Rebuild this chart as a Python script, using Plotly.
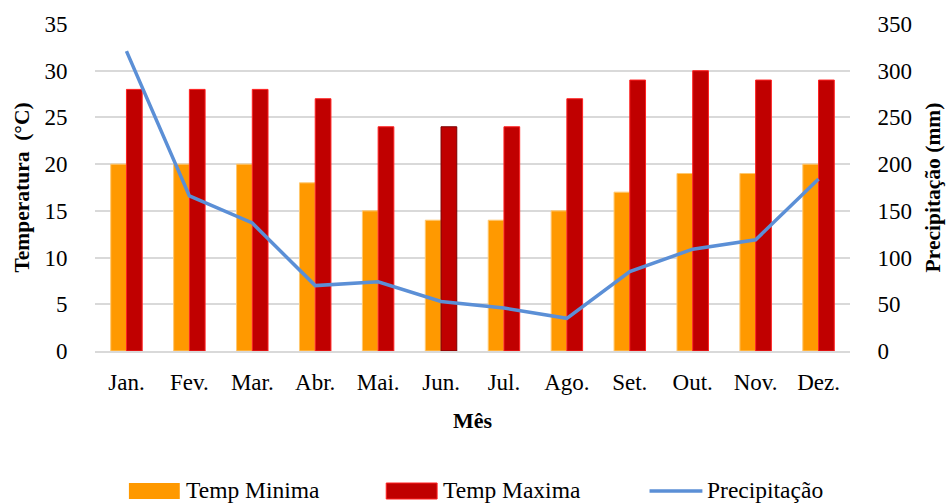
import plotly.graph_objects as go

# Monthly climate data
meses = ["Jan.", "Fev.", "Mar.", "Abr.", "Mai.", "Jun.", "Jul.", "Ago.", "Set.", "Out.", "Nov.", "Dez."]
temp_minima = [20, 20, 20, 18, 15, 14, 14, 15, 17, 19, 19, 20]
temp_maxima = [28, 28, 28, 27, 24, 24, 24, 27, 29, 30, 29, 29]
precipitacao = [321, 166, 137, 70, 74, 53, 46, 35, 85, 109, 119, 184]

FONT = "Liberation Serif, Times New Roman, serif"
ORANGE = "#FF9900"
RED = "#C00000"
BLUE = "#5B8FD6"
GRID = "#D9D9D9"

W, H = 952, 504
L, R, T, B = 95, 100, 24, 153
PW, PH = W - L - R, H - T - B


def px_x(x):
    return (x - L) / PW


def px_y(y):
    return (H - B - y) / PH


max_outline = ["#FF2020"] * 12
max_outline[5] = "#7A0000"

fig = go.Figure()
fig.add_trace(go.Bar(
    x=meses, y=temp_minima, name="Temp Minima",
    marker=dict(color=ORANGE, line=dict(color="#FFC870", width=1)),
    showlegend=False,
))
fig.add_trace(go.Bar(
    x=meses, y=temp_maxima, name="Temp Maxima",
    marker=dict(color=RED, line=dict(color=max_outline, width=1)),
    showlegend=False,
))
fig.add_trace(go.Scatter(
    x=meses, y=precipitacao, name="Precipitação", yaxis="y2",
    mode="lines", line=dict(color=BLUE, width=3.5),
    showlegend=False,
))

# Legend drawn below the chart
shapes = [
    dict(type="rect", xref="paper", yref="paper",
         x0=px_x(129), x1=px_x(180), y0=px_y(499), y1=px_y(483),
         fillcolor=ORANGE, line=dict(width=0)),
    dict(type="rect", xref="paper", yref="paper",
         x0=px_x(387), x1=px_x(438), y0=px_y(499), y1=px_y(483),
         fillcolor=RED, line=dict(color="#FF2020", width=1)),
    dict(type="line", xref="paper", yref="paper",
         x0=px_x(651), x1=px_x(704), y0=px_y(491), y1=px_y(491),
         line=dict(color=BLUE, width=3.5)),
]
legend_labels = [(184, "Temp Minima"), (442, "Temp Maxima"), (707, "Precipitação")]
annotations = [
    dict(x=px_x(xp), y=px_y(490), xref="paper", yref="paper", text=txt,
         showarrow=False, xanchor="left", yanchor="middle",
         font=dict(family=FONT, size=23.5, color="#000000"))
    for xp, txt in legend_labels
]

fig.update_layout(
    width=W, height=H,
    margin=dict(l=L, r=R, t=T, b=B, pad=0),
    paper_bgcolor="white", plot_bgcolor="white",
    barmode="group", bargap=0.5, bargroupgap=0,
    font=dict(family=FONT, size=23, color="#000000"),
    shapes=shapes, annotations=annotations,
    xaxis=dict(
        showgrid=False, showline=True, linecolor=GRID, linewidth=1.5,
        ticks="outside", ticklen=10, tickcolor="rgba(0,0,0,0)",
        tickfont=dict(size=23),
        title=dict(text="<b>Mês</b>", font=dict(size=22), standoff=18),
    ),
    yaxis=dict(
        range=[0, 35], dtick=5, showgrid=True, gridcolor=GRID, gridwidth=1.5,
        zeroline=False, showline=False,
        ticks="outside", ticklen=22, tickcolor="rgba(0,0,0,0)",
        tickfont=dict(size=23),
        title=dict(text="<b>Temperatura  (°C)</b>", font=dict(size=21.5), standoff=8),
    ),
    yaxis2=dict(
        range=[0, 350], dtick=50, overlaying="y", side="right",
        showgrid=False, zeroline=False, showline=False,
        ticks="outside", ticklen=22, tickcolor="rgba(0,0,0,0)",
        tickfont=dict(size=23),
        title=dict(text="<b>Precipitação (mm)</b>", font=dict(size=21.5), standoff=13),
    ),
)

fig.write_html("out.html")
